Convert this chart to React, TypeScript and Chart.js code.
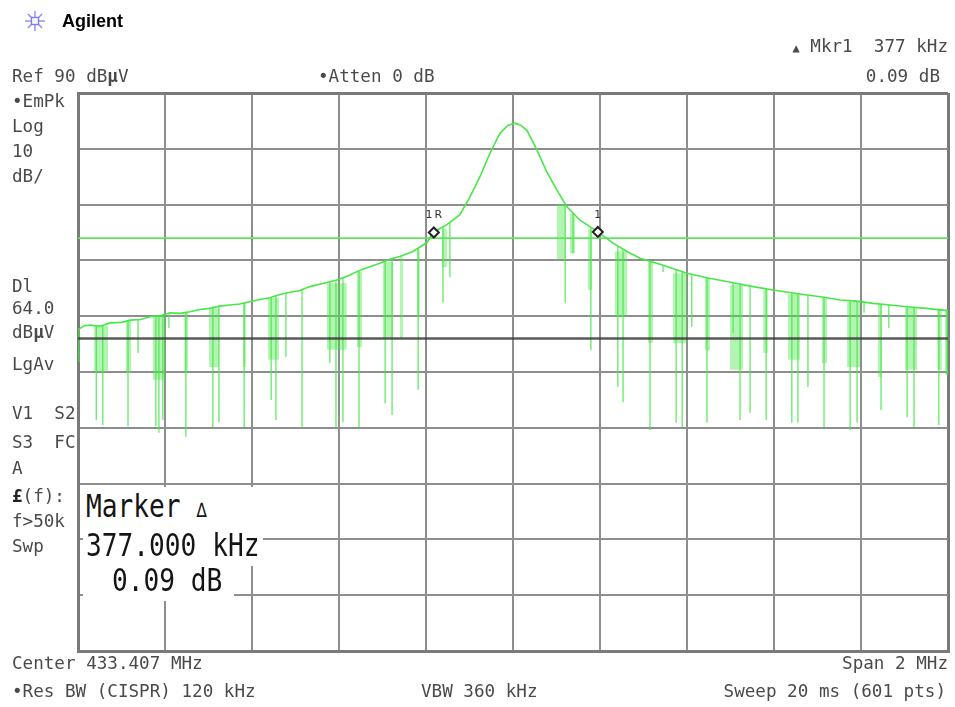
import React, { useEffect, useRef } from "react";
import { Chart, registerables } from "chart.js";

Chart.register(...registerables);

// x axis: offset from centre (kHz); centre 433.407 MHz, span 2 MHz
const xMinKHz = -1000;
const xMaxKHz = 1000;
const xStepKHz = 200;
// y axis: Ref 90 dBµV, 10 dB/div
const yMinDb = -10;
const yMaxDb = 90;
const yStepDb = 10;

// trace envelope (kHz offset, dBµV)
const envKHz = [-1000, -985, -972, -950, -926, -900, -880, -856, -834, -810, -789, -765, -743, -720, -697, -675, -651, -628, -605, -582, -559, -536, -513, -490, -467, -440, -405, -380, -350, -306, -280, -260, -230, -198, -182, -152, -122, -99, -76, -53, -30, -12, 5, 18, 32, 55, 78, 101, 124, 154, 195, 230, 262, 292, 338, 400, 446, 506, 552, 598, 640, 676, 715, 752, 790, 828, 866, 906, 950, 1000];
const envDb = [47.6, 48.3, 48.4, 48.2, 48.8, 48.9, 49.3, 49.4, 49.9, 50.1, 50.6, 50.5, 50.8, 51.2, 51.4, 51.8, 52.0, 52.2, 52.6, 53.0, 53.3, 53.9, 54.3, 54.6, 55.3, 55.8, 56.5, 57.2, 58.3, 59.5, 60.3, 60.7, 61.6, 63.2, 65.1, 66.4, 68.2, 71.4, 75.0, 79.2, 82.8, 84.2, 84.6, 84.2, 83.3, 79.8, 75.8, 72.6, 69.6, 67.2, 65.1, 63.1, 61.6, 60.4, 59.3, 57.7, 56.9, 56.0, 55.3, 54.7, 54.2, 53.8, 53.4, 52.9, 52.7, 52.3, 52.0, 51.7, 51.4, 51.0];

// single dropouts in the trace (kHz, level before drop, lowest level)
const spikeKHz = [-998, -958, -943, -885, -862, -821, -814, -805, -791, -752, -690, -676, -618, -556, -545, -522, -485, -421, -407, -391, -354, -294, -278, -218, -161, -145, 120, 138, 179, 241, 253, 315, 345, 375, 389, 411, 446, 506, 522, 545, 582, 641, 655, 678, 715, 775, 791, 807, 846, 864, 906, 922, 979, 998];
const spikeTopDb = [47.7, 48.3, 48.4, 49.2, 49.4, 50.0, 50.1, 50.2, 50.5, 50.7, 51.5, 51.8, 52.4, 53.4, 53.6, 54.1, 54.7, 56.1, 56.4, 56.9, 58.2, 59.9, 60.3, 62.2, 65.9, 66.8, 70.1, 68.5, 65.9, 62.6, 62.0, 59.8, 59.1, 58.3, 57.9, 57.5, 56.9, 56.0, 55.7, 55.4, 54.9, 54.2, 54.0, 53.8, 53.4, 52.8, 52.7, 52.5, 52.2, 52.0, 51.7, 51.6, 51.2, 51.0];
const spikeBottomDb = [41.8, 31.4, 30.5, 30.3, 43.4, 30.3, 29.1, 31.4, 47.9, 28.4, 30.1, 31.0, 30.1, 35.0, 31.4, 42.7, 30.0, 41.6, 30.1, 31.0, 30.1, 34.4, 32.3, 36.8, 52.4, 57.0, 52.4, 61.3, 43.9, 37.3, 34.6, 29.6, 57.9, 30.9, 30.1, 48.1, 30.9, 47.0, 31.4, 32.7, 31.4, 30.9, 30.9, 37.3, 30.1, 29.6, 30.9, 50.6, 33.2, 47.9, 31.9, 30.1, 30.5, 39.5];

// dense clusters of dropouts (kHz range, level, lowest level)
const bandStartKHz = [-963, -890, -828, -756, -699, -621, -563, -428, -359, -299, -260, -221, -163, 101, 131, 172, 234, 310, 368, 441, 499, 575, 632, 710, 768, 839, 901, 975, 993];
const bandEndKHz = [-931, -878, -798, -747, -676, -614, -538, -382, -347, -276, -253, -214, -152, 120, 143, 182, 262, 322, 400, 453, 529, 586, 660, 722, 798, 848, 929, 986, 1000];
const bandTopDb = [48.3, 49.2, 50.0, 50.6, 51.4, 52.3, 53.3, 55.9, 58.0, 59.7, 60.6, 62.0, 65.7, 70.1, 68.3, 65.6, 61.6, 59.8, 57.7, 56.8, 55.6, 54.8, 54.0, 53.3, 52.6, 52.1, 51.6, 51.2, 51.0];
const bandBottomDb = [40.0, 39.8, 38.6, 39.8, 40.9, 40.9, 42.2, 44.0, 44.5, 46.1, 46.1, 49.9, 58.8, 60.1, 61.3, 54.7, 49.9, 45.2, 45.2, 43.9, 40.4, 43.4, 42.2, 41.6, 40.9, 39.1, 40.4, 40.4, 39.5];

const markerKHz = [-182, 195];
const markerDb = [65.0, 65.1];
const markerNames = ["1R", "1"];

const displayLineDb = 64.0;
const thresholdDb = 46.0;

const TRACE = "rgb(72, 230, 72)";
const MONO = '"DejaVu Sans Mono", monospace';

const markerLabelPlugin = {
  id: "markerLabels",
  afterDatasetsDraw(chart: any) {
    const { ctx, scales } = chart;
    const xs = scales.x;
    const ys = scales.y;
    ctx.save();
    ctx.font = '11px "DejaVu Sans"';
    ctx.fillStyle = "#333";
    ctx.textAlign = "center";
    ctx.textBaseline = "middle";
    try { (ctx as any).letterSpacing = "2px"; } catch (e) {}
    markerKHz.forEach((f, i) => {
      ctx.fillText(markerNames[i], xs.getPixelForValue(f) + 1, ys.getPixelForValue(markerDb[i]) - 17);
    });
    ctx.restore();
  },
};

type TP = { x: number; cy: number; children: any; right?: boolean; size?: number; color?: string; bold?: boolean; family?: string; scaleY?: number };
function T({ x, cy, children, right, size = 17.6, color = "#4a4a4a", bold, family = MONO, scaleY }: TP) {
  const style: any = {
    position: "absolute",
    top: cy - size * 0.5,
    fontFamily: family,
    fontSize: size,
    lineHeight: `${size}px`,
    color,
    whiteSpace: "pre",
    fontWeight: bold ? "bold" : "normal",
  };
  if (right) style.right = 955 - x;
  else style.left = x;
  if (scaleY) {
    style.transform = `scaleY(${scaleY})`;
    style.transformOrigin = "left center";
  }
  return <div style={style}>{children}</div>;
}

export default function App() {
  const ref = useRef<HTMLCanvasElement | null>(null);

  useEffect(() => {
    document.body.style.margin = "0";
    const canvas = ref.current;
    if (!canvas) return;

    const spikeData: any[] = [];
    spikeKHz.forEach((f, i) => {
      spikeData.push({ x: f, y: spikeTopDb[i] });
      spikeData.push({ x: f, y: spikeBottomDb[i] });
      spikeData.push({ x: f, y: null });
    });

    const bandSets = bandStartKHz.map((s, i) => ({
      label: "band" + i,
      data: [
        { x: s, y: bandBottomDb[i] },
        { x: bandEndKHz[i], y: bandBottomDb[i] },
      ],
      fill: { value: bandTopDb[i] },
      backgroundColor: "rgba(72, 230, 72, 0.42)",
      borderWidth: 0,
      pointRadius: 0,
      order: 6,
    }));

    const chart = new Chart(canvas, {
      type: "line",
      data: {
        datasets: [
          {
            label: "markers",
            data: markerKHz.map((f, i) => ({ x: f, y: markerDb[i] })),
            showLine: false,
            pointStyle: "rectRot",
            pointRadius: 5,
            pointBorderWidth: 2,
            pointBorderColor: "#222",
            pointBackgroundColor: "#fff",
            order: 0,
          },
          {
            label: "trace",
            data: envKHz.map((f, i) => ({ x: f, y: envDb[i] })),
            borderColor: TRACE,
            borderWidth: 1.6,
            pointRadius: 0,
            tension: 0,
            fill: false,
            order: 1,
          },
          {
            label: "display line",
            data: [
              { x: xMinKHz, y: displayLineDb },
              { x: xMaxKHz, y: displayLineDb },
            ],
            borderColor: "rgb(95, 228, 95)",
            borderWidth: 1.6,
            pointRadius: 0,
            fill: false,
            order: 2,
          },
          {
            label: "threshold",
            data: [
              { x: xMinKHz, y: thresholdDb },
              { x: xMaxKHz, y: thresholdDb },
            ],
            borderColor: "rgba(60, 60, 60, 0.85)",
            borderWidth: 2.5,
            pointRadius: 0,
            fill: false,
            order: 3,
          },
          {
            label: "dropouts",
            data: spikeData,
            borderColor: "rgba(72, 230, 72, 0.85)",
            borderWidth: 1.3,
            pointRadius: 0,
            spanGaps: false,
            fill: false,
            order: 4,
          },
          ...bandSets,
        ] as any,
      },
      options: {
        animation: false,
        responsive: false,
        devicePixelRatio: 1,
        events: [],
        layout: { padding: { left: 78, top: 93, right: 7, bottom: 56 } },
        plugins: { legend: { display: false }, tooltip: { enabled: false } },
        scales: {
          x: {
            type: "linear",
            min: xMinKHz,
            max: xMaxKHz,
            ticks: { display: false, stepSize: xStepKHz },
            grid: {
              drawTicks: false,
              color: (c: any) => (c.index === 0 || c.index === 10 ? "#7a7a7a" : "#8e8e8e"),
              lineWidth: (c: any) => (c.index === 0 || c.index === 10 ? 3 : 2),
            },
            border: { display: true, color: "#7a7a7a", width: 3 },
          },
          y: {
            type: "linear",
            min: yMinDb,
            max: yMaxDb,
            ticks: { display: false, stepSize: yStepDb },
            grid: {
              drawTicks: false,
              color: (c: any) => (c.index === 0 || c.index === 10 ? "#7a7a7a" : "#8e8e8e"),
              lineWidth: (c: any) => (c.index === 0 || c.index === 10 ? 3 : 2),
            },
            border: { display: true, color: "#7a7a7a", width: 3 },
          },
        },
      } as any,
      plugins: [markerLabelPlugin],
    });
    return () => chart.destroy();
  }, []);

  const mu = <span style={{ fontWeight: "bold" }}>µ</span>;

  return (
    <div style={{ position: "absolute", left: 0, top: 0, width: 955, height: 707, background: "#fff", overflow: "hidden" }}>
      <canvas ref={ref} width={955} height={707} style={{ position: "absolute", left: 0, top: 0, width: 955, height: 707 }} />

      <svg width="24" height="24" viewBox="-12 -12 24 24" style={{ position: "absolute", left: 23, top: 9 }}>
        {[0, 45, 90, 135, 180, 225, 270, 315].map((a) => (
          <line key={a} x1={0} y1={0} x2={10 * Math.cos((a * Math.PI) / 180)} y2={10 * Math.sin((a * Math.PI) / 180)} stroke="#8a8af5" strokeWidth={1.4} />
        ))}
        <rect x={-3.5} y={-3.5} width={7} height={7} fill="#fff" stroke="#7c7cf0" strokeWidth={1.4} />
      </svg>
      <T x={62} cy={21} size={18} color="#000" bold family='"Liberation Sans", Arial, sans-serif'>Agilent</T>

      <T x={948} cy={47} right><span style={{ fontSize: 12 }}>▲</span>{" Mkr1  377 kHz"}</T>
      <T x={12} cy={77}>Ref 90 dB{mu}V</T>
      <T x={318} cy={77}>{"•Atten 0 dB"}</T>
      <T x={940} cy={77} right>0.09 dB</T>

      <T x={12} cy={102}>{"•EmPk"}</T>
      <T x={12} cy={127}>Log</T>
      <T x={12} cy={152}>10</T>
      <T x={12} cy={177}>dB/</T>
      <T x={12} cy={287}>Dl</T>
      <T x={12} cy={309}>64.0</T>
      <T x={12} cy={333}>dB{mu}V</T>
      <T x={12} cy={365}>LgAv</T>
      <T x={12} cy={414}>{"V1  S2"}</T>
      <T x={12} cy={443}>{"S3  FC"}</T>
      <T x={12} cy={469}>A</T>
      <T x={12} cy={497}><span style={{ fontWeight: "bold", color: "#222" }}>£</span>(f):</T>
      <T x={12} cy={522}>{"f>50k"}</T>
      <T x={12} cy={547}>Swp</T>

      <div style={{ position: "absolute", left: 83, top: 487, width: 180, height: 79, background: "#fff" }} />
      <div style={{ position: "absolute", left: 83, top: 565, width: 151, height: 36, background: "#fff" }} />
      <T x={86} cy={507} size={26.2} color="#151515" scaleY={1.2}>{"Marker "}<span style={{ fontSize: 17, verticalAlign: "baseline" }}>∆</span></T>
      <T x={86} cy={545} size={26.2} color="#151515" scaleY={1.2}>377.000 kHz</T>
      <T x={112} cy={580} size={26.2} color="#151515" scaleY={1.2}>0.09 dB</T>

      <T x={12} cy={664}>Center 433.407 MHz</T>
      <T x={948} cy={664} right>Span 2 MHz</T>
      <T x={12} cy={692}>{"•Res BW (CISPR) 120 kHz"}</T>
      <T x={421} cy={692}>VBW 360 kHz</T>
      <T x={946} cy={692} right>Sweep 20 ms (601 pts)</T>
    </div>
  );
}
